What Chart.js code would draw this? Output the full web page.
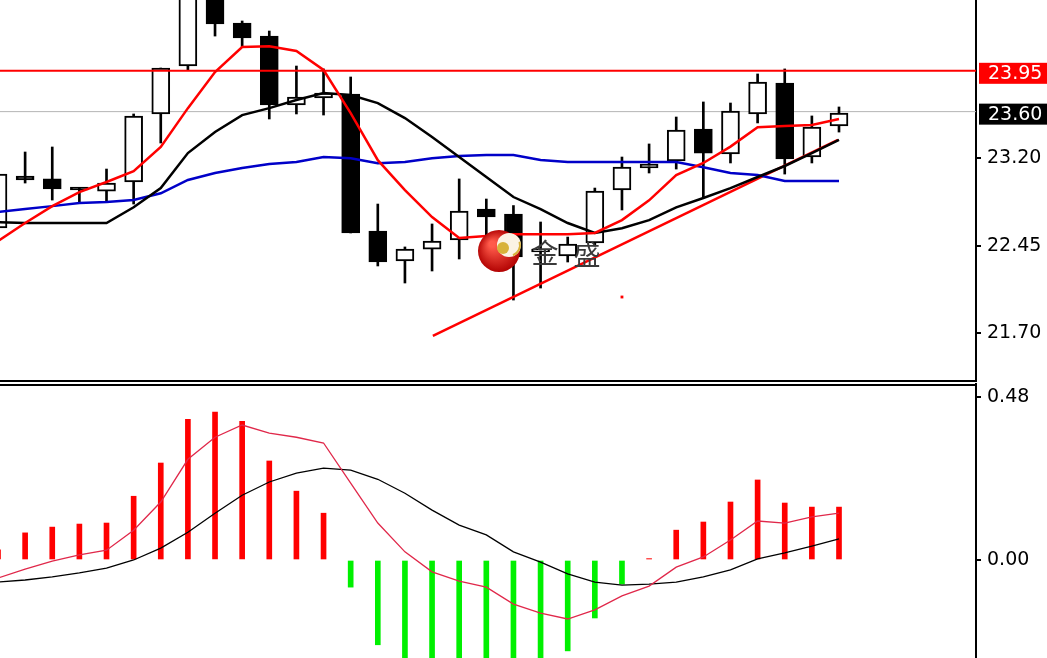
<!DOCTYPE html>
<html>
<head>
<meta charset="utf-8">
<script src="https://cdn.jsdelivr.net/npm/chart.js@4.4.0/dist/chart.umd.min.js"></script>
<style>
html, body { margin: 0; padding: 0; background: #fff; overflow: hidden; }
#wrap { position: relative; width: 1047px; height: 658px; }
#priceChart { position: absolute; left: 0; top: 0; }
#macdChart { position: absolute; left: 0; top: 383px; }
</style>
</head>
<body>
<div id="wrap">
	<canvas id="priceChart" width="1047" height="382"></canvas>
	<canvas id="macdChart" width="1047" height="275"></canvas>
</div>
<script>
// candles, one per bar
const opens  = [22.603, 23.048, 23.023, 22.937, 22.919, 22.997, 23.580, 23.991, 24.750, 24.360, 24.248, 23.657, 23.717, 23.751, 22.577, 22.320,
                22.422, 22.500, 22.765, 22.722, 22.397, 22.363, 22.474, 22.928, 23.117, 23.177, 23.451, 23.237, 23.580, 23.845, 23.211, 23.477];
const highs  = [23.065, 23.254, 23.297, 22.945, 23.108, 23.580, 23.974, 24.750, 24.800, 24.377, 24.291, 23.991, 23.966, 23.897, 22.808, 22.440,
                22.637, 23.023, 22.851, 22.795, 22.654, 22.525, 22.945, 23.211, 23.323, 23.554, 23.683, 23.674, 23.923, 23.966, 23.563, 23.640];
const lows   = [22.603, 22.988, 22.842, 22.817, 22.825, 22.808, 23.331, 23.957, 24.248, 24.154, 23.537, 23.580, 23.571, 22.560, 22.277, 22.131,
                22.234, 22.337, 22.525, 21.985, 22.088, 22.311, 22.448, 22.757, 23.074, 23.108, 22.860, 23.160, 23.503, 23.065, 23.160, 23.425];
const closes = [23.065, 23.014, 22.937, 22.928, 22.988, 23.563, 23.974, 24.700, 24.351, 24.231, 23.657, 23.725, 23.760, 22.560, 22.311, 22.422,
                22.491, 22.748, 22.697, 22.354, 22.422, 22.465, 22.919, 23.125, 23.151, 23.443, 23.245, 23.605, 23.854, 23.194, 23.468, 23.588];

// moving averages (red / black / blue)
const maFast = [22.490, 22.645, 22.790, 22.910, 22.997, 23.090, 23.297, 23.630, 23.940, 24.154, 24.160, 24.120, 23.957, 23.587, 23.184, 22.928,
                22.696, 22.517, 22.534, 22.550, 22.550, 22.550, 22.560, 22.670, 22.840, 23.056, 23.160, 23.300, 23.467, 23.476, 23.485, 23.537];
const maMid  = [22.652, 22.645, 22.645, 22.645, 22.645, 22.780, 22.945, 23.245, 23.425, 23.570, 23.630, 23.700, 23.760, 23.742, 23.673, 23.545,
                23.383, 23.211, 23.040, 22.868, 22.765, 22.645, 22.560, 22.600, 22.670, 22.780, 22.860, 22.945, 23.040, 23.134, 23.245, 23.357];
const maSlow = [22.740, 22.765, 22.790, 22.817, 22.825, 22.842, 22.900, 23.014, 23.074, 23.117, 23.151, 23.168, 23.211, 23.200, 23.158, 23.168,
                23.200, 23.220, 23.228, 23.228, 23.185, 23.168, 23.168, 23.168, 23.168, 23.168, 23.124, 23.074, 23.057, 23.005, 23.005, 23.005];

// MACD panel
const macdHist = [0.030, 0.080, 0.097, 0.106, 0.109, 0.188, 0.286, 0.415, 0.436, 0.409, 0.292, 0.203, 0.138, -0.080, -0.250, -0.330,
                  -0.360, -0.370, -0.360, -0.340, -0.300, -0.268, -0.171, -0.071, 0.004, 0.088, 0.112, 0.171, 0.236, 0.168, 0.156, 0.156];
const macdLine = [-0.053, -0.027, -0.003, 0.015, 0.029, 0.088, 0.171, 0.297, 0.362, 0.398, 0.374, 0.362, 0.345, 0.227, 0.109, 0.024,
                  -0.035, -0.062, -0.080, -0.130, -0.157, -0.174, -0.147, -0.106, -0.077, -0.021, 0.009, 0.059, 0.115, 0.109, 0.127, 0.138];
const signalLine = [-0.065, -0.059, -0.050, -0.038, -0.024, 0.000, 0.035, 0.082, 0.138, 0.191, 0.230, 0.256, 0.271, 0.265, 0.238, 0.197,
                    0.147, 0.103, 0.074, 0.024, -0.006, -0.041, -0.065, -0.074, -0.071, -0.065, -0.050, -0.029, 0.003, 0.021, 0.041, 0.062];

// levels, trend line, axis ticks
const resistLevel = 23.95;
const lastPrice = 23.60;
const trendX = [16.03, 30.96];
const trendY = [21.677, 23.357];
const markX = [23.0];
const markY = [22.011];
const priceTicks = [21.70, 22.45, 23.20];
const macdTicks = [0.00, 0.48];

const xMin = 0.074, xMax = 36.05;
const priceMin = 21.291, priceMax = 24.557;
const macdMin = -0.289, macdMax = 0.519;
const AXIS_W = 71;
const FONT = { family: 'DejaVu Sans', size: 19 };

const idx = opens.map((_, i) => i);
const xy = (arr) => idx.map(i => ({ x: i, y: arr[i] }));

function yAxis(min, max, ticks) {
	return {
		position: 'right',
		min: min,
		max: max,
		afterBuildTicks: (s) => { s.ticks = ticks.map(v => ({ value: v })); },
		afterFit: (s) => {
			s.width = AXIS_W;
			s.paddingTop = 0;
			s.paddingBottom = 0;
		},
		grid: { drawOnChartArea: false, drawTicks: true, tickLength: 5, color: '#000', lineWidth: 2 },
		border: { display: true, color: '#000', width: 2 },
		ticks: { font: FONT, color: '#000', padding: 6, autoSkip: false, callback: v => Number(v).toFixed(2) },
	};
}

const xAxis = { type: 'linear', min: xMin, max: xMax, display: false, offset: false };

const priceExtras = {
	id: 'priceExtras',
	afterDatasetsDraw(chart) {
		const c = chart.ctx;
		// logo watermark
		c.save();
		const g = c.createRadialGradient(492, 244, 3, 499, 251, 22);
		g.addColorStop(0, '#ff5a4a');
		g.addColorStop(1, '#b00000');
		c.fillStyle = g;
		c.beginPath(); c.arc(499, 251, 21, 0, Math.PI * 2); c.fill();
		c.fillStyle = '#fbf3e4';
		c.beginPath(); c.arc(509, 245, 12, 0, Math.PI * 2); c.fill();
		c.fillStyle = '#d8b23a';
		c.beginPath(); c.arc(503, 248, 6, 0, Math.PI * 2); c.fill();
		c.strokeStyle = '#d8b23a'; c.lineWidth = 2;
		c.beginPath(); c.arc(509, 245, 11, -0.3, 1.2); c.stroke();
		c.fillStyle = '#3a3a3a';
		c.font = '27px "Noto Sans CJK SC"';
		c.textAlign = 'center';
		c.textBaseline = 'middle';
		c.fillText('金', 545, 253);
		c.fillText('盛', 587, 255);
		c.restore();
	},
	afterDraw(chart) {
		const c = chart.ctx;
		const a = chart.chartArea;
		const y = chart.scales.y;
		c.save();
		c.fillStyle = '#000';
		c.fillRect(0, a.bottom - 1, a.right, 2);
		c.font = '19px "DejaVu Sans"';
		c.textBaseline = 'middle';
		c.textAlign = 'left';
		const badges = [
			{ v: resistLevel, bg: '#ff0000' },
			{ v: lastPrice, bg: '#000000' },
		];
		badges.forEach(b => {
			const py = y.getPixelForValue(b.v);
			c.fillStyle = b.bg;
			c.fillRect(a.right + 3, py - 8, AXIS_W, 21);
			c.fillStyle = '#fff';
			c.fillText(b.v.toFixed(2), a.right + 12, py + 3);
		});
		c.restore();
	},
};

new Chart(document.getElementById('priceChart').getContext('2d'), {
	type: 'bar',
	data: {
		datasets: [
			{
				type: 'line', order: 0, data: xy(maFast),
				borderColor: '#ff0000', borderWidth: 2.5, pointRadius: 0, tension: 0,
			},
			{
				type: 'line', order: 1, data: xy(maMid),
				borderColor: '#000000', borderWidth: 2.5, pointRadius: 0, tension: 0,
			},
			{
				type: 'line', order: 2, data: xy(maSlow),
				borderColor: '#0000c8', borderWidth: 2.5, pointRadius: 0, tension: 0,
			},
			{
				type: 'line', order: 3, data: trendX.map((x, i) => ({ x: x, y: trendY[i] })),
				borderColor: '#ff0000', borderWidth: 2.5, pointRadius: 0,
			},
			{
				type: 'scatter', order: 3, data: markX.map((x, i) => ({ x: x, y: markY[i] })),
				backgroundColor: '#ff0000', borderWidth: 0, pointStyle: 'rect', pointRadius: 2,
			},
			{
				type: 'bar', order: 5, grouped: false, barThickness: 18, minBarLength: 3,
				data: idx.map(i => ({ x: i, y: [Math.min(opens[i], closes[i]), Math.max(opens[i], closes[i])] })),
				backgroundColor: idx.map(i => closes[i] >= opens[i] ? '#ffffff' : '#000000'),
				borderColor: '#000000', borderWidth: 2, borderSkipped: false,
			},
			{
				type: 'bar', order: 6, grouped: false, barThickness: 2,
				data: idx.map(i => ({ x: i, y: [lows[i], highs[i]] })),
				backgroundColor: '#000000', borderWidth: 0,
			},
			{
				type: 'line', order: 7, data: [{ x: xMin, y: lastPrice }, { x: xMax, y: lastPrice }],
				borderColor: '#b4b4b4', borderWidth: 1, pointRadius: 0,
			},
			{
				type: 'line', order: 4, data: [{ x: xMin, y: resistLevel }, { x: xMax, y: resistLevel }],
				borderColor: '#ff0000', borderWidth: 2, pointRadius: 0,
			},
		],
	},
	options: {
		responsive: false,
		animation: false,
		layout: { autoPadding: false, padding: { left: 0, right: 0, top: 0, bottom: 1 } },
		plugins: { legend: { display: false }, tooltip: { enabled: false } },
		scales: { x: xAxis, y: yAxis(priceMin, priceMax, priceTicks) },
	},
	plugins: [priceExtras],
});

const macdFrame = {
	id: 'macdFrame',
	afterDraw(chart) {
		const c = chart.ctx;
		const a = chart.chartArea;
		c.save();
		c.fillStyle = '#000';
		c.fillRect(0, a.top, a.right, 2);
		c.restore();
	},
};

new Chart(document.getElementById('macdChart').getContext('2d'), {
	type: 'bar',
	data: {
		datasets: [
			{
				type: 'line', order: 0, data: xy(macdLine),
				borderColor: '#e0284a', borderWidth: 1.3, pointRadius: 0, tension: 0,
			},
			{
				type: 'line', order: 1, data: xy(signalLine),
				borderColor: '#000000', borderWidth: 1.3, pointRadius: 0, tension: 0,
			},
			{
				type: 'bar', order: 2, grouped: false, barThickness: 5,
				data: xy(macdHist),
				backgroundColor: macdHist.map(v => v >= 0 ? '#ff0000' : '#00f000'),
				borderWidth: 0,
			},
		],
	},
	options: {
		responsive: false,
		animation: false,
		layout: { autoPadding: false, padding: { left: 0, right: 0, top: 1, bottom: 0 } },
		plugins: { legend: { display: false }, tooltip: { enabled: false } },
		scales: { x: xAxis, y: yAxis(macdMin, macdMax, macdTicks) },
	},
	plugins: [macdFrame],
});
</script>
</body>
</html>
